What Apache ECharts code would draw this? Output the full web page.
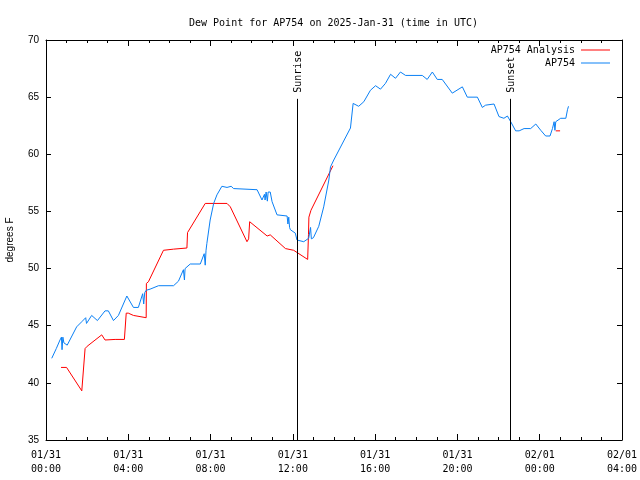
<!DOCTYPE html>
<html>
<head>
<meta charset="utf-8">
<script src="https://cdn.jsdelivr.net/npm/echarts@6/dist/echarts.min.js"></script>
<style>html,body{margin:0;padding:0;background:#fff}#c{width:640px;height:480px}</style>
</head>
<body>
<div id="c"></div>
<script>
// Hours since 2025-01-31 00:00 UTC
const xTickLabels = ['01/31\n00:00','01/31\n04:00','01/31\n08:00','01/31\n12:00','01/31\n16:00','01/31\n20:00','02/01\n00:00','02/01\n04:00'];
const yTicks = [35,40,45,50,55,60,65,70];

const analysisHours = [0.73,1.0,1.74,1.82,1.9,2.0,2.71,2.87,3.36,3.81,3.9,4.0,4.25,4.87,4.88,4.98,5.71,6.2,6.85,6.88,6.95,7.74,8.8,8.96,9.77,9.85,9.9,10.75,10.9,11.64,12.04,12.72,12.76,12.78,12.88,13.95,20.0,24.78,24.99];
const analysisValues = [41.35,41.35,39.3,39.3,43.0,43.2,44.2,43.75,43.8,43.8,46.1,46.1,45.9,45.7,48.7,48.85,51.6,51.7,51.8,53.15,53.2,55.7,55.7,55.4,52.35,52.6,54.1,52.85,52.95,51.75,51.6,50.8,53.0,54.5,55.1,59.0,null,62.05,62.05];

const ap754Hours = [0.28,0.5,0.68,0.75,0.78,0.82,0.87,1.03,1.49,1.74,1.93,1.97,2.22,2.5,2.87,3.03,3.28,3.52,3.93,4.02,4.25,4.49,4.7,4.75,4.8,4.87,5.06,5.47,6.2,6.44,6.68,6.73,6.76,7.01,7.5,7.69,7.74,7.78,7.82,7.98,8.15,8.31,8.55,8.8,9.0,9.12,9.2,10.26,10.5,10.62,10.65,10.7,10.76,10.8,10.9,10.99,11.23,11.72,11.76,11.8,11.84,11.88,12.12,12.2,12.53,12.77,12.82,12.86,12.9,13.0,13.26,13.5,13.75,13.83,13.99,14.8,14.93,15.2,15.45,15.77,16.02,16.26,16.5,16.75,16.99,17.23,17.48,18.29,18.53,18.78,19.02,19.26,19.75,20.24,20.48,20.97,21.21,21.37,21.78,22.02,22.26,22.43,22.59,22.83,23.0,23.24,23.56,23.81,24.05,24.29,24.5,24.62,24.7,24.74,24.78,24.86,25.02,25.27,25.35,25.4];
const ap754Values = [42.15,43.0,43.75,44.0,42.9,44.0,43.5,43.3,44.9,45.35,45.7,45.2,45.9,45.45,46.3,46.3,45.45,45.9,47.6,47.5,46.6,46.6,47.8,46.9,47.9,48.1,48.2,48.5,48.5,48.9,49.9,49.0,50.0,50.4,50.4,51.3,50.3,51.6,52.2,54.25,55.7,56.45,57.2,57.1,57.2,57.0,56.9,56.9,56.0,56.5,56.0,56.7,55.9,56.7,56.7,55.85,54.7,54.6,53.9,54.5,53.6,53.4,53.1,52.5,52.35,52.65,52.7,53.6,52.6,52.7,53.7,55.4,57.75,58.9,59.5,62.3,64.45,64.2,64.6,65.6,66.0,65.7,66.2,67.0,66.65,67.2,66.9,66.9,66.55,67.2,66.55,66.55,65.35,65.9,65.0,65.0,64.1,64.3,64.4,63.3,63.15,63.35,62.85,62.05,62.05,62.25,62.25,62.65,62.1,61.6,61.6,62.25,62.85,62.1,62.85,62.95,63.15,63.15,63.9,64.2];

const sunEvents = [{name:'Sunrise', hour:12.23}, {name:'Sunset', hour:22.57}];
const sunLineTop = 64.85;

const mono = 'DejaVu Sans Mono';
const sans = 'Liberation Sans';

const chart = echarts.init(document.getElementById('c'), null, {renderer:'canvas'});

function xAxisCfg(pos, showLabel){
  return {
    type:'value', position:pos, min:0, max:28, interval:4,
    axisLine:{show:true, onZero:false, lineStyle:{color:'#000', width:1}},
    axisTick:{show:true, inside:true, length:6, lineStyle:{color:'#000'}},
    minorTick:{show:true, splitNumber:4, length:3, lineStyle:{color:'#000'}},
    splitLine:{show:false},
    axisLabel:{show:showLabel, color:'#000', fontFamily:mono, fontSize:10, lineHeight:14, margin:8,
      formatter:(v)=>xTickLabels[Math.round(v/4)]}
  };
}
function yAxisCfg(pos, showLabel){
  return {
    type:'value', position:pos, min:35, max:70, interval:5,
    name: showLabel ? 'degrees F' : '', nameLocation:'middle', nameGap:31,
    nameTextStyle:{color:'#000', fontFamily:sans, fontSize:10},
    axisLine:{show:true, onZero:false, lineStyle:{color:'#000', width:1}},
    axisTick:{show:true, inside:true, length:5, lineStyle:{color:'#000'}},
    splitLine:{show:false},
    axisLabel:{show:showLabel, color:'#000', fontFamily:sans, fontSize:10, margin:7,
      formatter:(v)=> yTicks.includes(v) ? String(v) : ''}
  };
}

const option = {
  animation:false,
  backgroundColor:'#fff',
  title:{text:'Dew Point for AP754 on 2025-Jan-31 (time in UTC)', left:184, top:13,
    textStyle:{fontFamily:mono, fontSize:10, fontWeight:'normal', color:'#000'}},
  grid:{left:46, right:18, top:40, bottom:40, containLabel:false, outerBoundsMode:'none'},
  legend:[
    {data:['AP754 Analysis'], right:30, top:45, align:'right', icon:'rect', itemWidth:29, itemHeight:1,
      textStyle:{fontFamily:mono, fontSize:10, color:'#000', padding:[0,1,0,0]}, padding:0},
    {data:['AP754'], right:30, top:58, align:'right', icon:'rect', itemWidth:29, itemHeight:1,
      textStyle:{fontFamily:mono, fontSize:10, color:'#000', padding:[0,1,0,0]}, padding:0}
  ],
  xAxis:[xAxisCfg('bottom', true), xAxisCfg('top', false)],
  yAxis:[yAxisCfg('left', true), yAxisCfg('right', false)],
  series:[
    {name:'AP754 Analysis', type:'line', xAxisIndex:0, yAxisIndex:0, symbol:'none', connectNulls:false,
      color:'#ff0000', lineStyle:{color:'#ff0000', width:1},
      data: analysisHours.map((h,i)=>[h, analysisValues[i]])},
    {name:'AP754', type:'line', xAxisIndex:0, yAxisIndex:0, symbol:'none',
      color:'#0a80f5', lineStyle:{color:'#0a80f5', width:1},
      data: ap754Hours.map((h,i)=>[h, ap754Values[i]]),
      markLine:{silent:true, symbol:['none','none'], label:{show:false},
        lineStyle:{color:'#000', width:1, type:'solid'},
        data: sunEvents.map(e=>[{coord:[e.hour, 35]},{coord:[e.hour, sunLineTop]}])}}
  ]
};
chart.setOption(option);

const graphics = sunEvents.map(e=>{
  const p = chart.convertToPixel({xAxisIndex:0, yAxisIndex:0}, [e.hour, sunLineTop]);
  return {type:'text', x:p[0]+1, y:p[1]-6, rotation:Math.PI/2,
    style:{text:e.name, font:'10px "DejaVu Sans Mono"', fill:'#000', textAlign:'left', textVerticalAlign:'middle'}};
});
chart.setOption({graphic:graphics});
</script>
</body>
</html>
